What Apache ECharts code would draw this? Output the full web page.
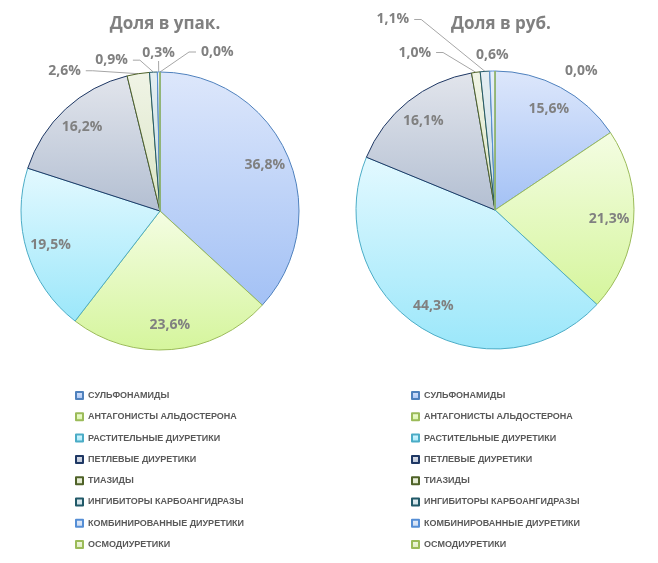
<!DOCTYPE html>
<html><head><meta charset="utf-8">
<script src="https://cdn.jsdelivr.net/npm/echarts@6/dist/echarts.min.js"></script>
<style>html,body{margin:0;padding:0;background:#fff}#c{width:658px;height:563px}</style>
</head><body><div id="c"></div>
<script>
const categories = ['СУЛЬФОНАМИДЫ','АНТАГОНИСТЫ АЛЬДОСТЕРОНА','РАСТИТЕЛЬНЫЕ ДИУРЕТИКИ','ПЕТЛЕВЫЕ ДИУРЕТИКИ','ТИАЗИДЫ','ИНГИБИТОРЫ КАРБОАНГИДРАЗЫ','КОМБИНИРОВАННЫЕ ДИУРЕТИКИ','ОСМОДИУРЕТИКИ'];
const sharePacks = [36.8, 23.6, 19.5, 16.2, 2.6, 0.9, 0.3, 0.0];
const shareRub = [15.6, 21.3, 44.3, 16.1, 1.0, 1.1, 0.6, 0.0];
const titles = ['Доля в упак.', 'Доля в руб.'];

// styles
const fills = [['#dde7fb','#a3c1f5'],['#f4fde3','#d5f59c'],['#e3f9ff','#9be7fa'],['#e2e5ec','#b3bfd2'],['#f0f4e6','#dbe5c6'],['#e4eef2','#c9dde4'],['#e6eefa','#c7d8f0'],['#f2f8e6','#dceab9']];
const borders = ['#4f81bd','#9bbb59','#4bacc6','#1f3864','#4f6228','#215968','#558ed5','#9bbb59'];
// leader line styles per pie for small slices: [length, length2, mode, lineVisible]
const leaderStyles = [
  {4:[3,52,'bend',1], 5:[12,20,'bend',1], 6:[11,0,'above',1], 7:[20,36,'mirror',1]},
  {4:[20,37,'bend',1], 5:[52,67,'bend',1], 6:[8,0,'above',0], 7:[0,65,'mirror',0]}
];

function grad(c){return new echarts.graphic.LinearGradient(0,0,0,1,[{offset:0,color:c[0]},{offset:1,color:c[1]}]);}
function fmt(p){return p.value.toFixed(1).replace('.',',')+'%';}
const labelFont = {color:'#808080', fontSize:14, fontWeight:'bold', fontFamily:'"Open Sans", sans-serif'};

const centers = [[160,211],[495,210]];
const datasets = [sharePacks, shareRub];
const series = [];
datasets.forEach((vals, k) => {
  const ls = leaderStyles[k];
  series.push({
    type:'pie', radius:139, center:centers[k], startAngle:90, clockwise:true,
    avoidLabelOverlap:false,
    itemStyle:{borderWidth:1},
    label:Object.assign({show:true, position:'outside', formatter:fmt}, labelFont),
    labelLine:{show:true, length:12, length2:40, minTurnAngle:0, lineStyle:{color:'#a6a6a6', width:1}},
    emphasis:{disabled:true},
    labelLayout: function(p){
      const s = ls[p.dataIndex];
      const pts = p.labelLinePoints;
      if (!s || !pts) return {};
      const p0 = pts[0], p2 = pts[pts.length-1], p1 = pts[1];
      if (s[2] === 'bend') {
        const side = p2[0] < p1[0] ? -1 : 1;
        return {labelLinePoints:[p0, [p2[0]-side*7, p2[1]], p2]};
      }
      if (s[2] === 'mirror') {
        const q2 = [2*p0[0]-p2[0], p2[1]];
        const side = q2[0] < p0[0] ? -1 : 1;
        return {x:q2[0]+side*5, y:q2[1], align: side>0?'left':'right', verticalAlign:'middle',
          labelLinePoints:[p0, [q2[0]-side*7, q2[1]], q2]};
      }
      if (s[2] === 'above') {
        return {x:p2[0], y:p2[1]-1, align:'center', verticalAlign:'bottom', labelLinePoints:[p0, p2, p2]};
      }
      return {};
    },
    data: categories.map((n,i)=>{
      const s = ls[i];
      return {name:n, value:vals[i],
        itemStyle:{color:grad(fills[i]), borderColor:borders[i]},
        label:{show: !!s},
        labelLine: s ? {show:true, length:s[0], length2:s[1], lineStyle:{opacity:s[3]}} : {show:false}};
    })
  });
  series.push({
    type:'pie', radius:[84,139], center:centers[k], startAngle:90, clockwise:true, silent:true,
    itemStyle:{color:'rgba(0,0,0,0)', borderWidth:0},
    label:Object.assign({show:true, position:'inside', formatter:fmt}, labelFont),
    labelLine:{show:false},
    emphasis:{disabled:true},
    data: categories.map((n,i)=>({name:n, value:vals[i], label:{show: !ls[i]}}))
  });
});

const legendBase = {orient:'vertical', top:391, padding:0, itemWidth:7, itemHeight:7, itemGap:12.3, icon:'rect',
  textStyle:{color:'#595959', fontSize:9, fontWeight:'bold', fontFamily:'"Liberation Sans", Arial, sans-serif'}, data:categories, selectedMode:false};

const chart = echarts.init(document.getElementById('c'), null, {renderer:'canvas'});
chart.setOption({
  animation:false,
  title:[
    {text:titles[0], left:160, top:11, textAlign:'center', textStyle:{color:'#808080', fontSize:17, fontWeight:'bold', fontFamily:'"Open Sans", sans-serif'}},
    {text:titles[1], left:496, top:11, textAlign:'center', textStyle:{color:'#808080', fontSize:17, fontWeight:'bold', fontFamily:'"Open Sans", sans-serif'}}
  ],
  legend:[Object.assign({left:75}, legendBase), Object.assign({left:411}, legendBase)],
  series: series
});
</script></body></html>
